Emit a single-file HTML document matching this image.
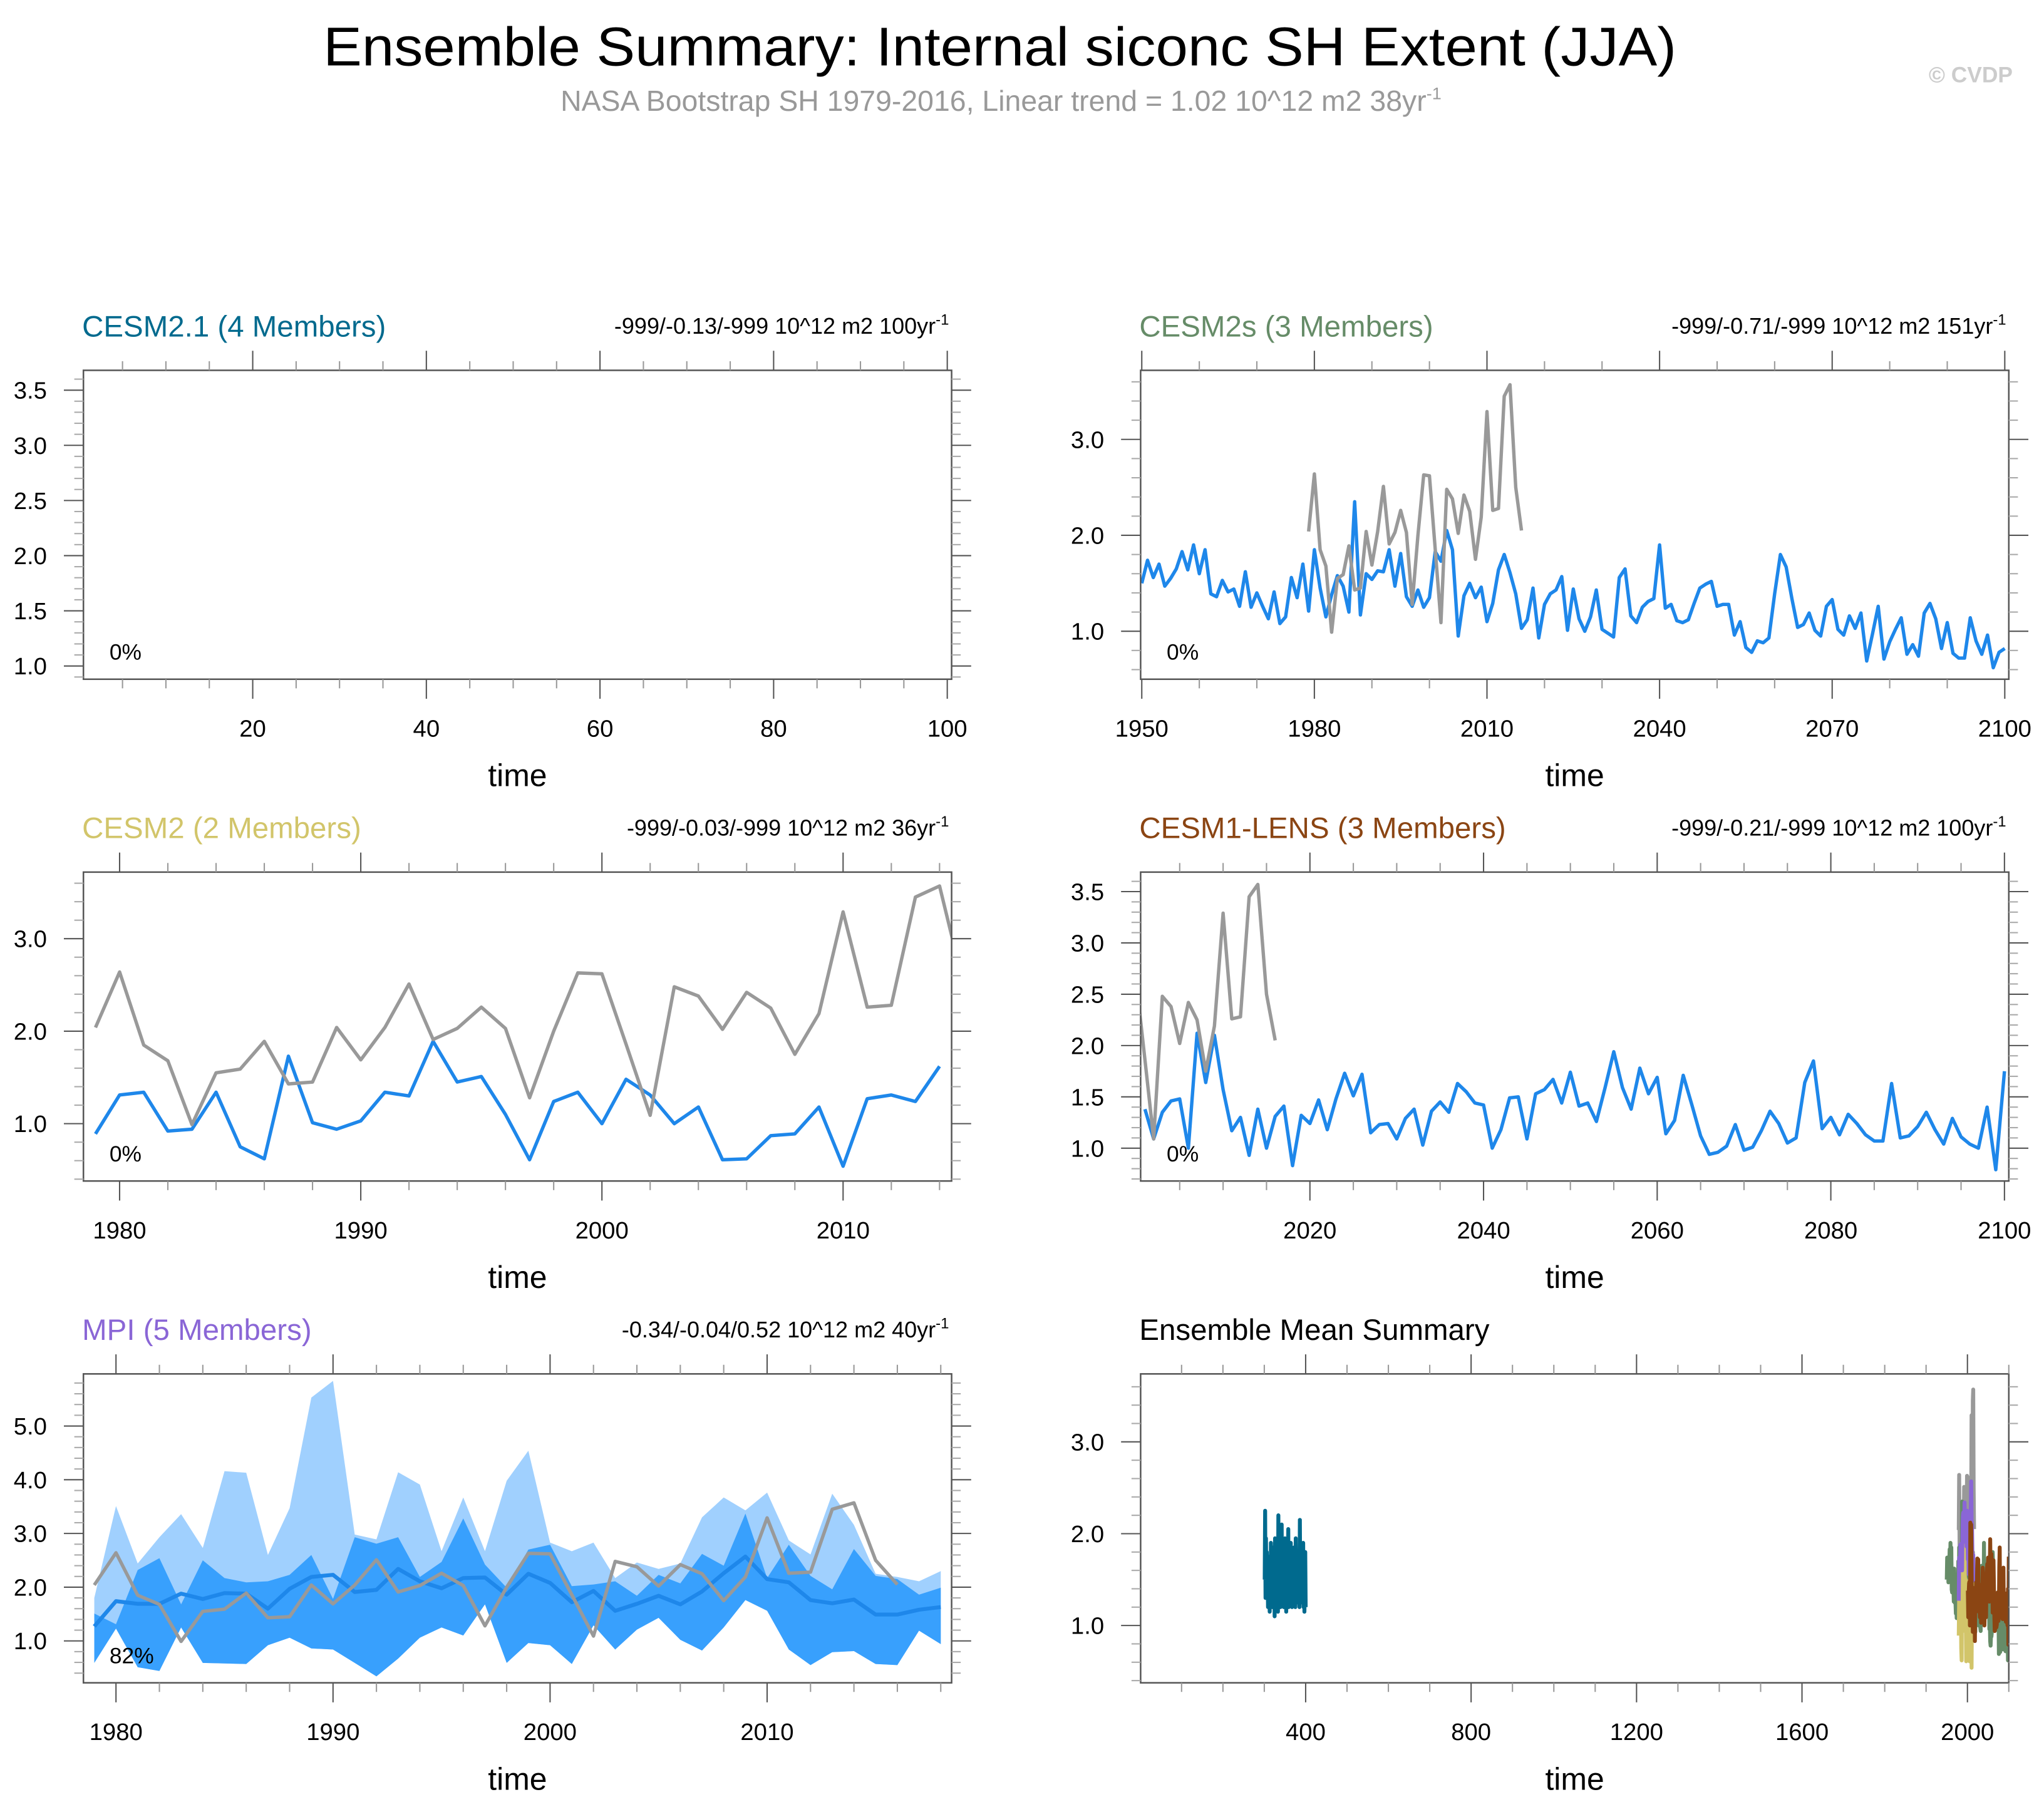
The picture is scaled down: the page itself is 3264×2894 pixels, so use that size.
<!DOCTYPE html>
<html><head><meta charset="utf-8"><style>
html,body{margin:0;padding:0;background:#fff;}
svg{display:block;font-family:"Liberation Sans",Arial,sans-serif;}
</style></head><body>
<svg id="chart" width="3264" height="2894" viewBox="0 0 1568 1390" xmlns="http://www.w3.org/2000/svg">
<rect x="0" y="0" width="1568" height="1390" fill="#fff"/>
<text x="767" y="50" font-size="42" text-anchor="middle" textLength="1038" lengthAdjust="spacingAndGlyphs">Ensemble Summary: Internal siconc SH Extent (JJA)</text>
<text x="430" y="85" font-size="22.3" fill="#999">NASA Bootstrap SH 1979-2016, Linear trend = 1.02 10^12 m2 38yr<tspan dy="-9" font-size="13">-1</tspan></text>
<text x="1544" y="63" font-size="17" font-weight="bold" fill="#ccc" text-anchor="end">© CVDP</text>
<g id="plots"></g>
</svg>
<script>
// ---- data ----
const obsYears = [1979,2016];
const obsValues = [2.04,2.64,1.85,1.68,0.99,1.55,1.59,1.89,1.43,1.45,2.04,1.69,2.04,2.51,1.91,2.03,2.26,2.03,1.28,2.00,2.63,2.62,1.86,1.09,2.48,2.38,2.02,2.42,2.25,1.75,2.19,3.29,2.26,2.28,3.45,3.57,2.50,2.05];
const cesm2sYears = [1950,2100];
const cesm2sValues = [1.50,1.74,1.56,1.70,1.47,1.55,1.65,1.83,1.64,1.90,1.60,1.85,1.39,1.36,1.53,1.41,1.44,1.26,1.62,1.25,1.40,1.26,1.13,1.41,1.08,1.15,1.56,1.35,1.70,1.21,1.85,1.45,1.15,1.38,1.58,1.47,1.20,2.35,1.17,1.60,1.54,1.63,1.62,1.85,1.47,1.81,1.36,1.26,1.43,1.25,1.35,1.83,1.73,2.05,1.85,0.95,1.37,1.50,1.35,1.46,1.10,1.29,1.64,1.80,1.61,1.39,1.03,1.12,1.45,0.93,1.28,1.39,1.43,1.57,1.01,1.44,1.13,1.00,1.15,1.43,1.02,0.98,0.94,1.56,1.65,1.16,1.09,1.25,1.31,1.34,1.90,1.24,1.28,1.11,1.09,1.12,1.29,1.45,1.49,1.52,1.26,1.28,1.28,0.96,1.10,0.83,0.78,0.90,0.88,0.93,1.39,1.80,1.67,1.34,1.04,1.07,1.19,1.01,0.95,1.26,1.33,1.02,0.96,1.16,1.03,1.19,0.69,0.97,1.26,0.71,0.89,1.02,1.14,0.76,0.86,0.74,1.19,1.29,1.13,0.82,1.09,0.77,0.72,0.72,1.14,0.90,0.76,0.96,0.62,0.78,0.82];
const cesm2Years = [1979,2014];
const cesm2Values = [0.89,1.31,1.34,0.92,0.94,1.34,0.75,0.62,1.73,1.01,0.94,1.03,1.34,1.30,1.89,1.45,1.51,1.10,0.61,1.24,1.34,1.00,1.48,1.31,1.00,1.18,0.61,0.62,0.87,0.89,1.18,0.54,1.27,1.31,1.24,1.62];
const lensYears = [2001,2100];
const lensValues = [1.38,1.09,1.35,1.46,1.48,1.00,2.12,1.64,2.10,1.57,1.17,1.30,0.93,1.38,1.00,1.31,1.41,0.83,1.32,1.24,1.47,1.18,1.48,1.73,1.51,1.72,1.15,1.23,1.24,1.09,1.29,1.38,1.03,1.36,1.45,1.35,1.63,1.55,1.44,1.42,1.00,1.18,1.49,1.50,1.09,1.53,1.57,1.67,1.44,1.74,1.41,1.44,1.26,1.59,1.94,1.59,1.38,1.78,1.53,1.69,1.14,1.27,1.71,1.42,1.12,0.94,0.96,1.02,1.23,0.98,1.01,1.17,1.36,1.24,1.05,1.10,1.64,1.85,1.19,1.30,1.13,1.33,1.24,1.13,1.07,1.07,1.63,1.10,1.12,1.21,1.35,1.18,1.04,1.29,1.11,1.04,1.00,1.40,0.79,1.75];
const mpiYears = [1979,2018];
const mpiMax = [1.80,3.51,2.44,2.93,3.36,2.73,4.16,4.13,2.60,3.47,5.53,5.84,2.98,2.89,4.14,3.91,2.67,3.67,2.67,3.98,4.54,2.83,2.67,2.83,2.17,2.46,2.34,2.44,3.30,3.67,3.43,3.76,2.87,2.61,3.74,3.16,2.25,2.19,2.11,2.30];
const mpiP90 = [1.51,1.31,2.32,2.54,1.68,2.50,2.17,2.09,2.11,2.23,2.60,1.78,2.93,2.81,2.93,2.19,2.47,3.28,2.42,1.99,2.70,2.79,2.02,2.05,2.11,1.84,2.23,2.07,2.62,2.40,3.37,2.17,2.79,2.21,1.96,2.71,2.21,2.15,1.86,1.99];
const mpiP10 = [0.59,1.23,0.51,0.44,1.25,0.59,0.58,0.57,0.92,1.06,0.86,0.84,0.59,0.34,0.67,1.06,1.25,1.10,1.68,0.59,0.96,0.92,0.57,1.29,0.84,1.21,1.43,1.02,0.82,1.25,1.76,1.56,0.84,0.55,0.79,0.81,0.57,0.55,1.19,0.94];
const mpiMin = [0.59,1.23,0.51,0.44,1.25,0.59,0.58,0.57,0.92,1.06,0.86,0.84,0.59,0.34,0.67,1.06,1.25,1.10,1.68,0.59,0.96,0.92,0.57,1.29,0.84,1.21,1.43,1.02,0.82,1.25,1.76,1.56,0.84,0.55,0.79,0.81,0.57,0.55,1.19,0.94];
const mpiMean = [1.27,1.74,1.69,1.69,1.88,1.78,1.89,1.88,1.60,1.97,2.19,2.23,1.91,1.95,2.34,2.11,1.98,2.17,2.18,1.86,2.25,2.08,1.72,1.93,1.56,1.69,1.84,1.68,1.92,2.26,2.57,2.15,2.09,1.76,1.70,1.77,1.49,1.49,1.58,1.63];
const cesm21Years = [301,400];
const cesm21Mean = [1.50,2.25,1.30,1.95,1.40,1.80,1.35,1.60,1.20,1.70,1.25,1.75,1.15,1.65,1.30,1.90,1.25,1.60,1.20,1.85,1.35,1.55,1.30,1.75,1.10,1.95,1.20,1.70,1.40,1.85,1.25,1.65,1.15,2.20,1.35,1.60,1.30,1.75,1.20,1.55,1.45,2.10,1.25,1.70,1.35,1.85,1.20,1.65,1.30,1.95,1.40,1.60,1.15,1.80,1.25,1.70,1.35,2.05,1.20,1.60,1.30,1.75,1.25,1.90,1.40,1.55,1.20,1.80,1.30,1.65,1.35,1.85,1.25,1.60,1.20,1.95,1.30,1.70,1.45,1.55,1.25,1.80,1.35,1.65,1.20,2.15,1.30,1.60,1.40,1.75,1.25,1.55,1.35,1.90,1.20,1.70,1.15,1.60,1.80,1.20];
const cesm2sMean = cesm2sValues;
const cesm2Mean = cesm2Values;
const lensMean = lensValues;

const NS = "http://www.w3.org/2000/svg";
const root = document.getElementById('plots');
function mk(tag, attrs, parent){ const e=document.createElementNS(NS,tag); for(const k in attrs) e.setAttribute(k,attrs[k]); (parent||root).appendChild(e); return e; }
function years(r){ const a=[]; for(let y=r[0]; y<=r[1]; y++) a.push(y); return a; }

function panel(o){
  const g = mk('g',{});
  
  
  const X = v => o.x0 + (v-o.xd[0])/(o.xd[1]-o.xd[0])*(o.x1-o.x0);
  const Y = v => o.y1 - (v-o.yd[0])/(o.yd[1]-o.yd[0])*(o.y1-o.y0);
  const clipId = 'clip-'+o.name;
  const cp = mk('clipPath',{id:clipId},g); mk('rect',{x:o.x0,y:o.y0,width:o.x1-o.x0,height:o.y1-o.y0},cp);
  const body = mk('g',{'clip-path':'url(#'+clipId+')'},g);
  o.draw && o.draw(body, X, Y);
  const fr = mk('rect',{x:o.x0,y:o.y0,width:o.x1-o.x0,height:o.y1-o.y0,fill:'none',stroke:'#555','stroke-width':1.2},g);
  
  
  const ya = mk('g',{},g);
  
  
  for(let v=Math.ceil(o.yd[0]/o.yminor-1e-6)*o.yminor; v<=o.yd[1]+1e-9; v+=o.yminor){
    const vv=Math.round(v*100)/100, y=Y(vv);
    const major = Math.abs(vv/o.ymajor-Math.round(vv/o.ymajor))<1e-6;
    const len = major?15:7;
    mk('line',{x1:o.x0-len,x2:o.x0,y1:y,y2:y,stroke:major?'#555':'#aaa','stroke-width':1},ya);
    mk('line',{x1:o.x1,x2:o.x1+len,y1:y,y2:y,stroke:major?'#555':'#aaa','stroke-width':1},ya);
    if(major && o.ylabels.indexOf(vv)>=0){
      const t=mk('text',{x:o.x0-28,y:y+6.5,'font-size':18.4,'text-anchor':'end'},ya); t.textContent=vv.toFixed(1);
      
      
    }
  }
  const xa = mk('g',{},g);
  
  
  for(let v=Math.ceil(o.xd[0]/o.xminor)*o.xminor; v<=o.xd[1]; v+=o.xminor){
    const x=X(v); const major = v % o.xmajor===0;
    const len = major?15:7;
    mk('line',{x1:x,x2:x,y1:o.y1,y2:o.y1+len,stroke:major?'#555':'#999','stroke-width':1},xa);
    mk('line',{x1:x,x2:x,y1:o.y0-len,y2:o.y0,stroke:major?'#555':'#999','stroke-width':1},xa);
    if(major && o.xlabels.indexOf(v)>=0){
      const t=mk('text',{x:x,y:o.y1+44,'font-size':18.4,'text-anchor':'middle'},xa); t.textContent=v;
      
      
    }
  }
  const xt=mk('text',{x:(o.x0+o.x1)/2,y:o.y1+82,'font-size':24,'text-anchor':'middle'},g); xt.textContent='time';
  
  
  const tt=mk('text',{x:o.x0-1,y:o.y0-26,'font-size':22.8,fill:o.tcolor},g); tt.textContent=o.title;
  
  
  if(o.trend){
    const tr=mk('text',{x:o.x1-2,y:o.y0-28,'font-size':17.3,'text-anchor':'end'},g); tr.textContent=o.trend;
    const sp=mk('tspan',{dy:-7,'font-size':11.5},tr); sp.textContent='-1';
    
    
  }
  if(o.pct){
    const pt=mk('text',{x:o.x0+20,y:o.y1-15,'font-size':17},g); pt.textContent=o.pct;
    
    
  }
  return g;
}
function line(parent, X, Y, yrs, vals, color, w, name){
  const d = vals.map((v,i)=>(i?'L':'M')+X(yrs[i]).toFixed(2)+' '+Y(v).toFixed(2)).join(' ');
  const p = mk('path',{d:d,fill:'none',stroke:color,'stroke-width':w,'stroke-linejoin':'round'},parent);
  
  
  return p;
}
function band(parent, X, Y, yrs, lo, hi, color, name){
  let d = hi.map((v,i)=>(i?'L':'M')+X(yrs[i]).toFixed(2)+' '+Y(v).toFixed(2)).join(' ');
  for(let i=lo.length-1;i>=0;i--) d+=' L'+X(yrs[i]).toFixed(2)+' '+Y(lo[i]).toFixed(2);
  const p = mk('path',{d:d+' Z',fill:color,stroke:'none'},parent);
  
  
}
const OBS='#999999', BLUE='#1e87ea';

panel({name:'panel-cesm2-1',x0:64,x1:730,y0:284,y1:521,xd:[0.5,100.5],yd:[0.88,3.68],
  ymajor:0.5,yminor:0.1,ylabels:[1,1.5,2,2.5,3,3.5],xmajor:20,xminor:5,xlabels:[20,40,60,80,100],
  title:'CESM2.1 (4 Members)',tcolor:'#006a8e',trend:'-999/-0.13/-999 10^12 m2 100yr',pct:'0%'});

panel({name:'panel-cesm2s',x0:875,x1:1541,y0:284,y1:521,xd:[1949.8,2100.7],yd:[0.5,3.72],
  ymajor:1,yminor:0.2,ylabels:[1,2,3],xmajor:30,xminor:10,xlabels:[1950,1980,2010,2040,2070,2100],
  title:'CESM2s (3 Members)',tcolor:'#668c68',trend:'-999/-0.71/-999 10^12 m2 151yr',pct:'0%',
  draw:(b,X,Y)=>{ line(b,X,Y,years(cesm2sYears),cesm2sValues,BLUE,2.6,'cesm2s-ensemble-line'); line(b,X,Y,years(obsYears),obsValues,OBS,2.6,'observations-line'); }});

panel({name:'panel-cesm2',x0:64,x1:730,y0:669,y1:906,xd:[1978.5,2014.5],yd:[0.38,3.72],
  ymajor:1,yminor:0.2,ylabels:[1,2,3],xmajor:10,xminor:2,xlabels:[1980,1990,2000,2010],
  title:'CESM2 (2 Members)',tcolor:'#d2c56a',trend:'-999/-0.03/-999 10^12 m2 36yr',pct:'0%',
  draw:(b,X,Y)=>{ line(b,X,Y,years(cesm2Years),cesm2Values,BLUE,2.6,'cesm2-ensemble-line'); line(b,X,Y,years(obsYears),obsValues,OBS,2.6,'observations-line'); }});

panel({name:'panel-cesm1-lens',x0:875,x1:1541,y0:669,y1:906,xd:[2000.5,2100.5],yd:[0.68,3.69],
  ymajor:0.5,yminor:0.1,ylabels:[1,1.5,2,2.5,3,3.5],xmajor:20,xminor:5,xlabels:[2020,2040,2060,2080,2100],
  title:'CESM1-LENS (3 Members)',tcolor:'#8b4513',trend:'-999/-0.21/-999 10^12 m2 100yr',pct:'0%',
  draw:(b,X,Y)=>{ line(b,X,Y,years(lensYears),lensValues,BLUE,2.6,'cesm1-lens-ensemble-line'); line(b,X,Y,years(obsYears),obsValues,OBS,2.6,'observations-line'); }});

panel({name:'panel-mpi',x0:64,x1:730,y0:1054,y1:1291,xd:[1978.5,2018.5],yd:[0.22,5.97],
  ymajor:1,yminor:0.2,ylabels:[1,2,3,4,5],xmajor:10,xminor:2,xlabels:[1980,1990,2000,2010],
  title:'MPI (5 Members)',tcolor:'#8a66d6',trend:'-0.34/-0.04/0.52 10^12 m2 40yr',pct:'82%',
  draw:(b,X,Y)=>{ const yr=years(mpiYears);
    band(b,X,Y,yr,mpiMin,mpiMax,'#a0d0fe','mpi-min-max-band');
    band(b,X,Y,yr,mpiP10,mpiP90,'#38a0fd','mpi-10-90-band');
    line(b,X,Y,yr,mpiMean,'#1e87ea',3,'mpi-ensemble-mean-line');
    line(b,X,Y,years(obsYears),obsValues,OBS,2.6,'observations-line'); }});

panel({name:'panel-ensemble-mean-summary',x0:875,x1:1541,y0:1054,y1:1291,xd:[1,2100],yd:[0.376,3.74],
  ymajor:1,yminor:0.2,ylabels:[1,2,3],xmajor:400,xminor:100,xlabels:[400,800,1200,1600,2000],
  title:'Ensemble Mean Summary',tcolor:'#000',
  draw:(b,X,Y)=>{
    line(b,X,Y,years(cesm21Years),cesm21Mean,'#006a8e',3,'cesm2-1-mean-line');
    line(b,X,Y,years(obsYears),obsValues,OBS,3,'observations-mean-line');
    line(b,X,Y,years(cesm2sYears),cesm2sMean,'#668c68',3,'cesm2s-mean-line');
    line(b,X,Y,years(cesm2Years),cesm2Mean,'#d2c56a',3,'cesm2-mean-line');
    line(b,X,Y,years(mpiYears),mpiMean,'#8a66d6',3,'mpi-mean-line');
    line(b,X,Y,years(lensYears),lensMean,'#8b4513',3,'cesm1-lens-mean-line');
  }});
</script>
</body></html>
